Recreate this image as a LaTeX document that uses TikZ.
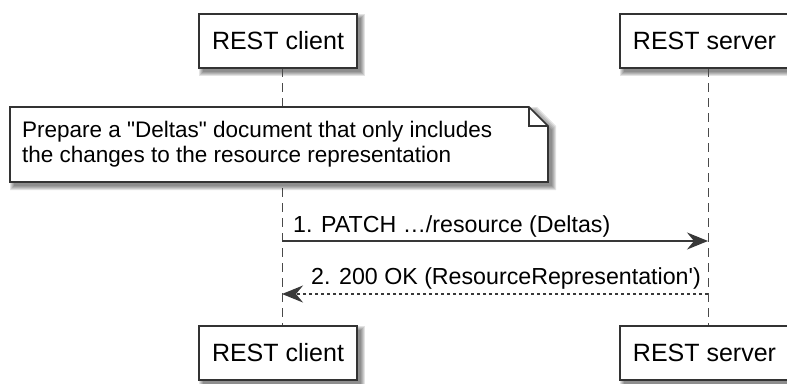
\documentclass[tikz,border=0pt]{standalone}
\usepackage{fontspec}
\setmainfont{Liberation Sans}
\newfontfamily\diagfont{Liberation Sans}
\usetikzlibrary{arrows.meta}
\definecolor{bordercol}{HTML}{333333}
\definecolor{linecol}{HTML}{383838}
\definecolor{lifecol}{HTML}{4a4a4a}
\newcommand{\rectshadow}[4]{%
  \foreach \r in {0,1,2,3,4}{%
    \fill[black,opacity=0.11] ({#1+4-\r},{#2+4-\r}) rectangle ({#3+4+\r},{#4+4+\r});}}
\tikzset{
  participant/.style={draw=bordercol, line width=1.7pt, fill=white,
    minimum width=158pt, minimum height=54pt, inner sep=0pt,
    font=\diagfont\fontsize{25}{30}\selectfont},
  lifeline/.style={draw=lifecol, line width=1pt, dash pattern=on 9pt off 6pt},
  msg/.style={draw=linecol, line width=1.5pt,
    -{Stealth[length=21pt,width=17pt,inset=7pt]}},
  reply/.style={msg, dash pattern=on 3pt off 3pt},
  notelabel/.style={font=\diagfont\fontsize{22.5}{27}\selectfont, inner sep=0pt, anchor=base west},
  msglabel/.style={font=\diagfont\fontsize{23.2}{27}\selectfont, inner sep=0pt, anchor=base west},
  notebox/.style={draw=bordercol, line width=1.7pt, fill=white, line join=miter},
}
\begin{document}
\begin{tikzpicture}[x=1pt,y=-1pt]
\useasboundingbox (0,0) rectangle (787,383);
\clip (0,0) rectangle (787,383);
% shadows of participants
\rectshadow{199}{14}{357}{68}
\rectshadow{620}{14}{789}{68}
\rectshadow{199}{326}{357}{380}
\rectshadow{620}{326}{789}{380}
% lifeline end points
\coordinate (cla) at (282,68);
\coordinate (clb) at (282,326);
\coordinate (sla) at (708,68);
\coordinate (slb) at (708,326);
\draw[lifeline] (cla) -- (clb);
\draw[lifeline] (sla) -- (slb);
% participants
\node[participant] (ctop) at (278,41) {REST client};
\node[participant, minimum width=169pt] (stop) at (704.5,41) {REST server};
\node[participant] (cbot) at (278,353) {REST client};
\node[participant, minimum width=169pt] (sbot) at (704.5,353) {REST server};
% note shadow
\foreach \r in {0,1,2,3,4}{%
  \fill[black,opacity=0.11] ({14-\r},{111-\r}) -- ({533+\r},{111-\r}) -- ({552+\r},{130-\r})
    -- ({552+\r},{186+\r}) -- ({14-\r},{186+\r}) -- cycle;}
% note
\draw[notebox] (10,107) -- (529,107) -- (548,126) -- (548,182) -- (10,182) -- cycle;
\draw[draw=bordercol, line width=1.5pt, line join=miter] (529,107) -- (529,126) -- (548,126);
\node[notelabel] (n1) at (22,137) {Prepare a "Deltas" document that only includes};
\node[notelabel] (n2) at (22,162) {the changes to the resource representation};
% messages
\coordinate (m1a) at (282,241);
\coordinate (m1b) at (708,241);
\coordinate (m2a) at (708,294);
\coordinate (m2b) at (282,294);
\draw[msg] (m1a) -- (m1b);
\node[msglabel] (l1) at (293,232) {1. PATCH …/resource (Deltas)};
\draw[reply] (m2a) -- (m2b);
\node[msglabel] (l2) at (311,284) {2. 200 OK (ResourceRepresentation')};
\end{tikzpicture}
\end{document}
